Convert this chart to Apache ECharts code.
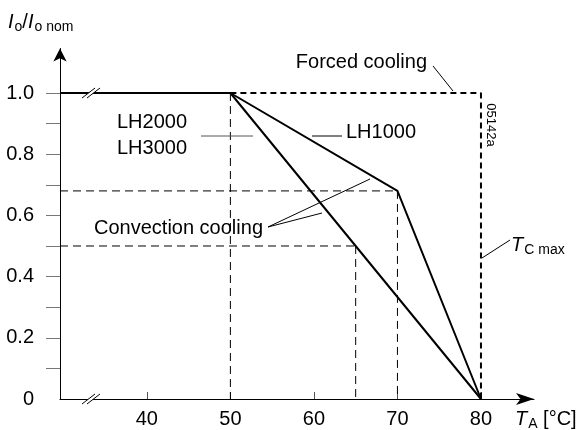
<!DOCTYPE html>
<html>
<head>
<meta charset="utf-8">
<script src="https://cdn.jsdelivr.net/npm/echarts@6/dist/echarts.min.js"></script>
<style>
  html, body { margin: 0; padding: 0; background: #fff; }
  #main { width: 584px; height: 430px; }
</style>
</head>
<body>
<div id="main"></div>
<script>
// axis values
var xTicks = [40, 50, 60, 70, 80]
var yLabels = [0, 0.2, 0.4, 0.6, 0.8, 1.0]
var yTicks = [0.1, 0.2, 0.3, 0.4, 0.5, 0.6, 0.7, 0.8, 0.9, 1.0]
var xStart = 29.6

// derating curves [T_A, Io/Io nom]
var lh1000 = [[xStart, 1], [50, 1], [70, 0.68], [80, 0]]
var lh2000 = [[xStart, 1], [50, 1], [80, 0]]
var forced = [[50, 1], [80, 1], [80, 0]]

// thin dashed helper lines
var guides = [
  [[50, 1], [50, 0]],
  [[xStart, 0.68], [70, 0.68]],
  [[70, 0.68], [70, 0]],
  [[xStart, 0.5], [65, 0.5]],
  [[65, 0.5], [65, 0]]
]

var font = "Liberation Sans, Arial, sans-serif"
var chartDom = document.getElementById("main")
var myChart = echarts.init(chartDom)
var option

var series = []
guides.forEach(function (g) {
  series.push({
    type: "line",
    data: g,
    symbol: "none",
    silent: true,
    z: 1,
    lineStyle: { color: "#000", width: 1, type: [8, 5] }
  })
})
series.push({
  name: "Forced cooling",
  type: "line",
  data: forced,
  symbol: "none",
  z: 2,
  lineStyle: { color: "#000", width: 2, type: [6, 4] }
})
series.push({
  name: "LH1000",
  type: "line",
  data: lh1000,
  symbol: "none",
  z: 3,
  lineStyle: { color: "#000", width: 2 }
})
series.push({
  name: "LH2000",
  type: "line",
  data: lh2000,
  symbol: "none",
  z: 3,
  lineStyle: { color: "#000", width: 2 }
})

function brk(x, y) {
  return [
    { type: "polygon", z: 50, shape: { points: [[x, y + 5], [x + 13, y - 5], [x + 18, y - 5], [x + 5, y + 5]] }, style: { fill: "#fff" } },
    { type: "line", z: 51, shape: { x1: x, y1: y + 5, x2: x + 13, y2: y - 5 }, style: { stroke: "#000", lineWidth: 1 } },
    { type: "line", z: 51, shape: { x1: x + 5, y1: y + 5, x2: x + 18, y2: y - 5 }, style: { stroke: "#000", lineWidth: 1 } }
  ]
}

function txt(x, y, text, align) {
  return {
    type: "text",
    z: 60,
    x: x,
    y: y,
    style: {
      text: text,
      font: "20px " + font,
      fill: "#000",
      align: align || "left",
      verticalAlign: "middle"
    }
  }
}

function leader(x1, y1, x2, y2, color) {
  return { type: "line", z: 60, shape: { x1: x1, y1: y1, x2: x2, y2: y2 }, style: { stroke: color || "#000", lineWidth: 1 } }
}

var subRich = {
  i: { font: "italic 20px " + font, fill: "#000" },
  s: { font: "14px " + font, fill: "#000", padding: [11, 0, 0, 1] },
  n: { font: "20px " + font, fill: "#000" }
}

var graphics = []
  .concat(brk(82, 93))
  .concat(brk(82, 399))
  .concat([
    txt(427, 62, "Forced cooling", "right"),
    leader(433, 66, 453, 91),
    {
      type: "text", z: 60, x: 491, y: 125, rotation: -Math.PI / 2,
      style: { text: "05142a", font: "13px " + font, fill: "#000", align: "center", verticalAlign: "middle" }
    },
    txt(117, 122, "LH2000"),
    txt(117, 148, "LH3000"),
    leader(201, 136, 253, 136, "#555"),
    txt(346, 132, "LH1000"),
    leader(312, 136, 342, 136),
    txt(263, 228, "Convection cooling", "right"),
    leader(268, 227, 370, 179),
    leader(268, 227, 322, 213),
    leader(482, 258, 510, 240),
    {
      type: "text", z: 60, x: 511, y: 245,
      style: { text: "{i|T}{s|C max}", fill: "#000", verticalAlign: "middle", rich: subRich }
    },
    {
      type: "text", z: 60, x: 515, y: 419,
      style: { text: "{i|T}{s|A}{n| [°C]}", fill: "#000", verticalAlign: "middle", rich: subRich }
    },
    {
      type: "text", z: 60, x: 8, y: 22,
      style: { text: "{i|I}{s|o}{n|/}{i|I}{s|o nom}", fill: "#000", verticalAlign: "middle", rich: subRich }
    }
  ])

option = {
  animation: false,
  backgroundColor: "#fff",
  grid: { left: 60, right: 50, top: 48.5, bottom: 31 },
  xAxis: {
    type: "value",
    min: xStart,
    max: 86.35,
    splitLine: { show: false },
    axisLine: {
      lineStyle: { color: "#000", width: 1 },
      symbol: ["none", "arrow"],
      symbolSize: [9, 18]
    },
    axisTick: { inside: true, length: 7, customValues: xTicks, lineStyle: { color: "#555" } },
    axisLabel: { customValues: xTicks, margin: 10, color: "#000", fontSize: 20, fontFamily: font }
  },
  yAxis: {
    type: "value",
    min: 0,
    max: 1.1454,
    splitLine: { show: false },
    axisLine: {
      lineStyle: { color: "#000", width: 1 },
      symbol: ["none", "arrow"],
      symbolSize: [10, 13]
    },
    axisTick: { length: 14, customValues: yTicks, lineStyle: { color: "#777" } },
    axisLabel: {
      customValues: yLabels,
      margin: 26,
      color: "#000",
      fontSize: 20,
      fontFamily: font,
      formatter: function (v) {
        return v === 0 ? "0" : v.toFixed(1)
      }
    }
  },
  series: series,
  graphic: graphics
}

option && myChart.setOption(option)
</script>
</body>
</html>
